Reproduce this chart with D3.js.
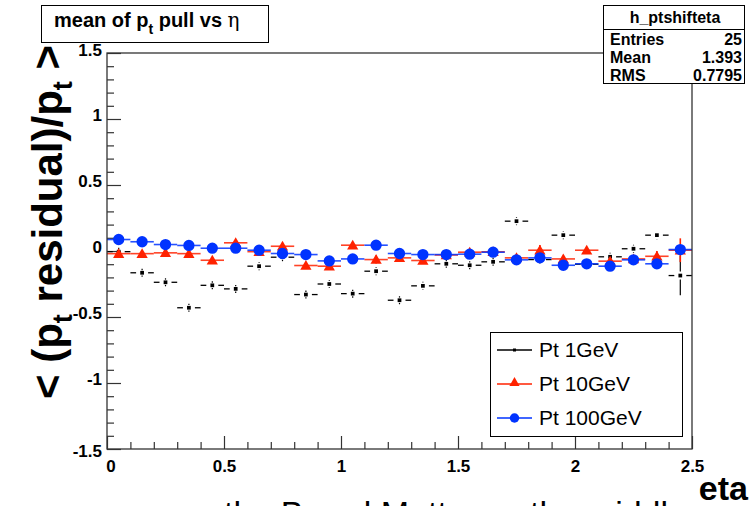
<!DOCTYPE html>
<html><head><meta charset="utf-8">
<script src="https://cdn.jsdelivr.net/npm/d3@7"></script>
<style>body{margin:0;background:#fff}svg{display:block}text{font-family:Arial,"Liberation Sans",Helvetica,sans-serif}</style>
</head><body><svg id="c" width="751" height="506"></svg>
<script>
const etaBins = [0.05,0.15,0.25,0.35,0.45,0.55,0.65,0.75,0.85,0.95,1.05,1.15,1.25,1.35,1.45,1.55,1.65,1.75,1.85,1.95,2.05,2.15,2.25,2.35,2.45];
const binHalfWidth = 0.05;
const pt1 = [-0.005,-0.165,-0.237,-0.43,-0.26,-0.287,-0.115,-0.047,-0.33,-0.25,-0.323,-0.153,-0.373,-0.264,-0.097,-0.108,-0.082,0.226,-0.065,0.12,-0.1,-0.044,0.017,0.12,-0.186];
const pt1Err = [0.02,0.02,0.02,0.02,0.02,0.02,0.025,0.02,0.02,0.025,0.02,0.025,0.02,0.025,0.02,0.02,0.02,0.025,0.02,0.025,0.02,0.025,0.025,0.03,0.15];
const pt10 = [-0.02,-0.02,-0.014,-0.02,-0.07,0.062,-0.005,0.036,-0.11,-0.115,0.044,-0.065,-0.052,-0.072,-0.03,-0.009,-0.006,-0.052,0.006,-0.06,0.006,-0.077,-0.06,-0.04,0.006];
const pt10Err = [0.015,0.015,0.015,0.015,0.015,0.02,0.015,0.02,0.015,0.02,0.02,0.03,0.02,0.02,0.015,0.015,0.015,0.015,0.04,0.02,0.02,0.02,0.02,0.04,0.09];
const pt100 = [0.087,0.07,0.049,0.042,0.021,0.021,0.006,-0.019,-0.027,-0.075,-0.06,0.044,-0.019,-0.027,-0.027,-0.024,-0.009,-0.067,-0.052,-0.108,-0.097,-0.115,-0.067,-0.097,0.011];
const pt100Err = [0.02,0.015,0.015,0.015,0.015,0.02,0.015,0.015,0.015,0.015,0.015,0.02,0.015,0.015,0.015,0.015,0.015,0.015,0.015,0.015,0.015,0.015,0.015,0.015,0.03];
const seriesNames = ["Pt 1GeV","Pt 10GeV","Pt 100GeV"];
const seriesColors = ["#000000","#ff2200","#0033ff"];
const xTicks = [0,0.5,1,1.5,2,2.5];
const yTicks = [-1.5,-1,-0.5,0,0.5,1,1.5];
const yTickLabels = ["-1.5","-1","-0.5","0","0.5","1","1.5"];
const statsName = "h_ptshifteta";
const statsRows = [["Entries","25"],["Mean","1.393"],["RMS","0.7795"]];

const svg = d3.select("#c");
const L=107,R=692,T=53,B=449;
const x = d3.scaleLinear().domain([0,2.5]).range([L,R]);
const y = d3.scaleLinear().domain([-1.5,1.5]).range([B,T]);

// bottom clipped text (only the tops are visible in the reference)
svg.append("text").attr("x",224).attr("y",525).attr("font-size",34).attr("fill","#000")
  .text("the Barrel Matter vs the middle");

// axes
const xMajor = d3.axisBottom(x).tickValues(xTicks).tickSize(-13).tickFormat(d=>d===0?"0":d3.format("")(d));
const xMinor = d3.axisBottom(x).tickValues(d3.range(0,2.51,0.1).filter(v=>Math.abs(v*2-Math.round(v*2))>1e-6)).tickSize(-7).tickFormat("");
const yMajor = d3.axisLeft(y).tickValues(yTicks).tickSize(-14).tickFormat((d,i)=>yTickLabels[i]);
const yMinor = d3.axisLeft(y).tickValues(d3.range(-1.5,1.51,0.1).filter(v=>Math.abs(v*2-Math.round(v*2))>1e-6)).tickSize(-7).tickFormat("");
function styleAxis(g){g.select(".domain").remove();g.selectAll("line").attr("stroke","#333").attr("stroke-width",1.2);}
const gx=svg.append("g").attr("transform",`translate(0,${B})`).call(xMajor).call(styleAxis);
gx.selectAll("text").attr("font-size",17).attr("font-weight","bold").attr("fill","#000").attr("dy","0.9em").attr("y",8);
svg.append("g").attr("transform",`translate(0,${B})`).call(xMinor).call(styleAxis);
const gy=svg.append("g").attr("transform",`translate(${L},0)`).call(yMajor).call(styleAxis);
gy.selectAll("text").attr("font-size",17).attr("font-weight","bold").attr("fill","#000").attr("x",-5).attr("dy","0.1em");
gy.selectAll(".tick").filter(d=>d===-1.5).select("text").attr("dy","0.45em");
gy.selectAll(".tick").filter(d=>d===1.5).select("text").attr("dy","0.15em");
svg.append("g").attr("transform",`translate(${L},0)`).call(yMinor).call(styleAxis);
gx.selectAll(".tick").filter(d=>d===0).select("text").attr("dx","0.2em");

// data
const allVals=[pt1,pt10,pt100], allErr=[pt1Err,pt10Err,pt100Err];
const gData=svg.append("g");
allVals.forEach((vals,si)=>{
  const col=seriesColors[si];
  const g=gData.append("g");
  const gap = si===0?3:0;
  etaBins.forEach((e,i)=>{
    const cx=x(e), cy=y(vals[i]);
    const x0=x(e-binHalfWidth), x1=x(e+binHalfWidth);
    const ey0=y(vals[i]+allErr[si][i]), ey1=y(vals[i]-allErr[si][i]);
    if(gap){
      g.append("line").attr("x1",x0).attr("x2",cx-gap-3).attr("y1",cy).attr("y2",cy).attr("stroke",col).attr("stroke-width",1.3);
      g.append("line").attr("x1",cx+gap+3).attr("x2",x1).attr("y1",cy).attr("y2",cy).attr("stroke",col).attr("stroke-width",1.3);
      g.append("line").attr("x1",cx).attr("x2",cx).attr("y1",ey0).attr("y2",cy-gap-1).attr("stroke",col).attr("stroke-width",1.2);
      g.append("line").attr("x1",cx).attr("x2",cx).attr("y1",cy+gap+1).attr("y2",ey1).attr("stroke",col).attr("stroke-width",1.2);
    } else {
      g.append("line").attr("x1",x0).attr("x2",x1).attr("y1",cy).attr("y2",cy).attr("stroke",col).attr("stroke-width",1.6).attr("stroke-opacity",0.85);
      g.append("line").attr("x1",cx).attr("x2",cx).attr("y1",ey0).attr("y2",ey1).attr("stroke",col).attr("stroke-width",1.6);
    }
  });
  g.selectAll("path.m").data(etaBins).join("path")
    .attr("d",si===0?d3.symbol(d3.symbolSquare,14):si===1?d3.symbol(d3.symbolTriangle,55):d3.symbol(d3.symbolCircle,100))
    .attr("transform",(d,i)=>`translate(${x(d)},${y(vals[i])+(si===1?1:0)})`).attr("fill",col);
});

// frame
svg.append("rect").attr("x",L).attr("y",T).attr("width",R-L).attr("height",B-T).attr("fill","none").attr("stroke","#333").attr("stroke-width",1.3);

// title box
svg.append("rect").attr("x",41.5).attr("y",5.5).attr("width",227).attr("height",37).attr("fill","#fff").attr("stroke","#000").attr("stroke-width",1);
const tt=svg.append("text").attr("x",54).attr("y",27).attr("font-size",20).attr("font-weight","bold");
tt.append("tspan").text("mean of p");
tt.append("tspan").attr("font-size",14).attr("dy",7).text("t");
tt.append("tspan").attr("dy",-7).text(" pull vs ");
tt.append("tspan").attr("font-weight","normal").attr("font-family","DejaVu Serif, serif").text("η");

// stats box
svg.append("rect").attr("x",603.5).attr("y",5.5).attr("width",141).attr("height",78).attr("fill","#fff").attr("stroke","#000").attr("stroke-width",1);
svg.append("line").attr("x1",603.5).attr("x2",744.5).attr("y1",29.5).attr("y2",29.5).attr("stroke","#000");
svg.append("text").attr("x",675).attr("y",23).attr("text-anchor","middle").attr("font-size",16).attr("font-weight","bold").text(statsName);
statsRows.forEach((r,i)=>{
  svg.append("text").attr("x",610).attr("y",45+i*18).attr("font-size",16).attr("font-weight","bold").text(r[0]);
  svg.append("text").attr("x",742).attr("y",45+i*18).attr("text-anchor","end").attr("font-size",16).attr("font-weight","bold").text(r[1]);
});

// legend
svg.append("rect").attr("x",490.5).attr("y",332.5).attr("width",192).attr("height",104).attr("fill","#fff").attr("stroke","#000").attr("stroke-width",1);
seriesNames.forEach((n,i)=>{
  const yy=350+i*34;
  svg.append("line").attr("x1",497).attr("x2",532).attr("y1",yy).attr("y2",yy).attr("stroke",seriesColors[i]).attr("stroke-width",1.3);
  svg.append("path").attr("d",i===0?d3.symbol(d3.symbolSquare,9):i===1?d3.symbol(d3.symbolTriangle,45):d3.symbol(d3.symbolCircle,70))
    .attr("transform",`translate(514.5,${yy+(i===1?-1:0)})`).attr("fill",seriesColors[i]);
  svg.append("text").attr("x",539).attr("y",yy+7).attr("font-size",21).text(n);
});

// axis titles
svg.append("text").attr("x",748).attr("y",500).attr("text-anchor","end").attr("font-size",34).attr("font-weight","bold").text("eta");
const yl=svg.append("text").attr("transform","translate(62,222) rotate(-90)").attr("text-anchor","middle").attr("font-size",42).attr("font-weight","bold");
yl.append("tspan").text("< (p");
yl.append("tspan").attr("font-size",27).attr("dy",10).text("t");
yl.append("tspan").attr("dy",-10).text(" residual)/p");
yl.append("tspan").attr("font-size",27).attr("dy",10).text("t");
yl.append("tspan").attr("dy",-10).text(" >");
</script></body></html>
